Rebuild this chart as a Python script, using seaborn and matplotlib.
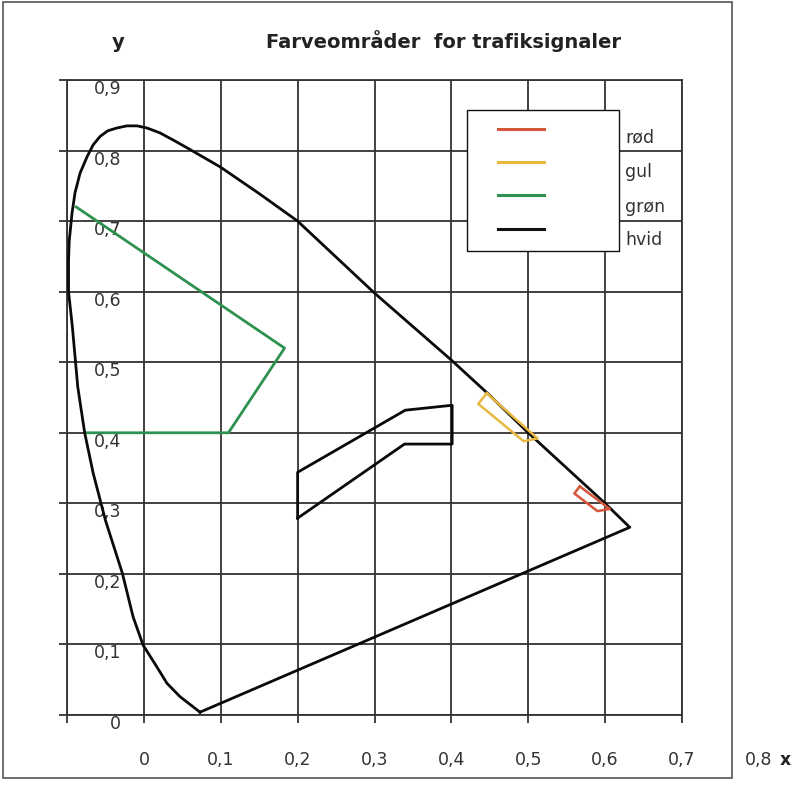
import numpy as np
import pandas as pd
import matplotlib
matplotlib.use("Agg")
import matplotlib.pyplot as plt
import seaborn as sns
from matplotlib.lines import Line2D
from matplotlib.legend_handler import HandlerLine2D
from matplotlib.patches import Rectangle

# ---------------- data ----------------
title = "Farveområder  for trafiksignaler"
series_names = ["rød", "gul", "grøn", "hvid"]
series_colors = ["#d4553a", "#e8b840", "#2e9150", "#111111"]

# spectral locus (as drawn), closed by the purple line
locus_x = [0.073, 0.047, 0.030, 0.017, -0.001, -0.014, -0.028, -0.050, -0.066,
           -0.077, -0.086, -0.093, -0.098, -0.098, -0.097, -0.0935, -0.0896, -0.083, -0.074,
           -0.066, -0.057, -0.047, -0.035, -0.022, -0.009, 0.004, 0.021, 0.038, 0.056,
           0.099, 0.150, 0.200, 0.300, 0.400, 0.447, 0.500, 0.600, 0.632]
locus_y = [0.004, 0.026, 0.045, 0.068, 0.099, 0.139, 0.201, 0.276, 0.343,
           0.400, 0.465, 0.550, 0.600, 0.645, 0.673, 0.711, 0.740, 0.768, 0.791,
           0.808, 0.820, 0.828, 0.832, 0.835, 0.835, 0.832, 0.825, 0.815, 0.804,
           0.777, 0.739, 0.700, 0.598, 0.503, 0.456, 0.400, 0.300, 0.266]

red_x = [0.567, 0.560, 0.590, 0.606]
red_y = [0.324, 0.314, 0.289, 0.292]

yellow_x = [0.446, 0.435, 0.494, 0.512]
yellow_y = [0.456, 0.441, 0.388, 0.392]

# green boundary is open: its left side is the spectral locus
green_x = [-0.088, 0.183, 0.110, -0.076]
green_y = [0.720, 0.520, 0.400, 0.400]

white_x = [0.200, 0.200, 0.340, 0.401, 0.401, 0.339]
white_y = [0.279, 0.344, 0.432, 0.439, 0.384, 0.384]

x_ticks = [-0.1, 0.0, 0.1, 0.2, 0.3, 0.4, 0.5, 0.6, 0.7]
x_tick_labels = ["", "0", "0,1", "0,2", "0,3", "0,4", "0,5", "0,6", "0,7"]
x_extra_label = "0,8"
y_ticks = [0.0, 0.1, 0.2, 0.3, 0.4, 0.5, 0.6, 0.7, 0.8, 0.9]
y_tick_labels = ["0", "0,1", "0,2", "0,3", "0,4", "0,5", "0,6", "0,7", "0,8", "0,9"]

# ---------------- figure ----------------
W, H = 800, 786
plt.rcParams["font.family"] = ["DejaVu Sans"]
fig = plt.figure(figsize=(W / 100, H / 100), dpi=100)
fig.patch.set_facecolor("white")
ax = fig.add_axes([67 / W, 1 - 715 / H, (682 - 67) / W, (715 - 80) / H])

gridc = "#363232"


def draw(xs, ys, color, lw, closed=True):
    xs, ys = list(xs), list(ys)
    if closed:
        xs, ys = xs + [xs[0]], ys + [ys[0]]
    df = pd.DataFrame({"x": xs, "y": ys})
    sns.lineplot(data=df, x="x", y="y", sort=False, estimator=None,
                 color=color, lw=lw, ax=ax, zorder=3)


draw(green_x, green_y, series_colors[2], 2.0, closed=False)
draw(locus_x, locus_y, "#0a0a0a", 2.0)
draw(white_x, white_y, "#0a0a0a", 2.0)
draw(yellow_x, yellow_y, series_colors[1], 1.8)
draw(red_x, red_y, series_colors[0], 1.8)

ax.set_xlim(-0.1, 0.7)
ax.set_ylim(0, 0.9)
ax.set_xlabel("")
ax.set_ylabel("")
ax.set_xticks(x_ticks, x_tick_labels)
ax.set_yticks(y_ticks, y_tick_labels)
ax.grid(True, color=gridc, lw=1.3)
ax.set_axisbelow(True)
for s in ax.spines.values():
    s.set_color(gridc)
    s.set_linewidth(1.3)
ax.tick_params(axis="both", length=5.5, width=1.3, color=gridc,
               labelsize=12.5, labelcolor="#333333")
ax.tick_params(axis="x", pad=20.4)
ax.tick_params(axis="y", pad=-44.6)
for lbl in ax.get_yticklabels():
    lbl.set_va("top")

ax.annotate(x_extra_label, xy=(0.8, 0), xycoords=("data", "axes fraction"),
            xytext=(0, -25.9), textcoords="offset points", ha="center", va="top",
            size=12.5, color="#333333", annotation_clip=False)
ax.annotate("x", xy=(0.8, 0), xycoords=("data", "axes fraction"),
            xytext=(15, -25.9), textcoords="offset points", ha="left", va="top",
            size=12.5, color="#222222", weight="bold", annotation_clip=False)

fig.text(443 / W, 1 - 48 / H, title, ha="center", va="baseline",
         weight="bold", size=14, color="#222222")
fig.text(118 / W, 1 - 48 / H, "y", ha="center", va="baseline",
         weight="bold", size=14, color="#222222")

# legend (box with line samples only; labels sit outside the box)
handles = [Line2D([], [], color=c, lw=2.2) for c in series_colors]
f = 10
leg = ax.legend(handles, [""] * 4, loc="upper left", numpoints=2,
                bbox_to_anchor=(467 / W, 1 - 110 / H), bbox_transform=fig.transFigure,
                borderaxespad=0, fontsize=f, frameon=True, fancybox=False,
                framealpha=1, edgecolor="#111111", borderpad=0.9,
                handlelength=5.93, handleheight=1.4, labelspacing=1.245,
                handletextpad=3.24,
                handler_map={Line2D: HandlerLine2D(marker_pad=1.31)})
leg.get_frame().set_linewidth(1.0)
leg.set_zorder(5)

for name, yb in zip(series_names, [142, 177, 212, 245]):
    fig.text(625 / W, 1 - yb / H, name, ha="left", va="baseline",
             size=12.5, color="#333333")

fig.add_artist(Rectangle((3 / W, 1 - 778 / H), 729 / W, 776 / H,
                         transform=fig.transFigure, fill=False,
                         edgecolor="#555555", lw=1.2))

fig.savefig("out.png", dpi=100, facecolor="white")
